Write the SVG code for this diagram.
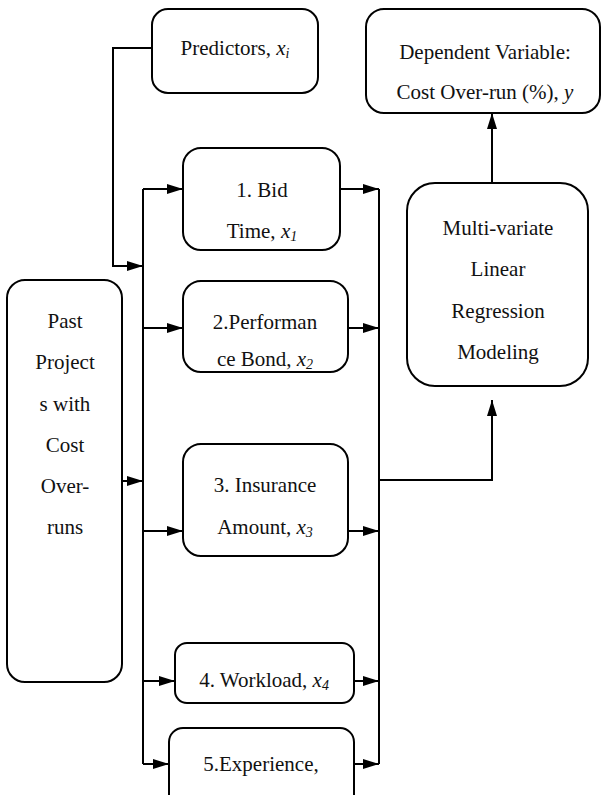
<svg xmlns="http://www.w3.org/2000/svg" width="602" height="795" viewBox="0 0 602 795">
<style>
.box{fill:#fff;stroke:#000;stroke-width:2}
text{font-family:'Liberation Serif','Times New Roman',serif;font-size:21px;fill:#111;text-anchor:middle}
.i{font-style:italic}
.s{font-size:14px;font-style:italic}
.c{fill:none;stroke:#000;stroke-width:2}
</style>
<defs>
<marker id="ah" viewBox="0 0 16 10" refX="16" refY="5" markerWidth="16" markerHeight="10" markerUnits="userSpaceOnUse" orient="auto">
<path d="M0,0 L16,5 L0,10 Z" fill="#000"/>
</marker>
</defs>
<g id="connectors">
<path class="c" d="M152,48 H113 V266 H143" marker-end="url(#ah)"/>
<path class="c" d="M143,189 V764"/>
<path class="c" d="M122,481 H143" marker-end="url(#ah)"/>
<path class="c" d="M143,189 H183" marker-end="url(#ah)"/>
<path class="c" d="M143,328 H183" marker-end="url(#ah)"/>
<path class="c" d="M143,531 H183" marker-end="url(#ah)"/>
<path class="c" d="M143,681 H175" marker-end="url(#ah)"/>
<path class="c" d="M143,764 H169" marker-end="url(#ah)"/>
<path class="c" d="M340,189 H379" marker-end="url(#ah)"/>
<path class="c" d="M348,328 H379" marker-end="url(#ah)"/>
<path class="c" d="M348,531 H379" marker-end="url(#ah)"/>
<path class="c" d="M354,681 H379" marker-end="url(#ah)"/>
<path class="c" d="M354,764 H379" marker-end="url(#ah)"/>
<path class="c" d="M379,189 V764"/>
<path class="c" d="M379,480 H492 V400" marker-end="url(#ah)"/>
<path class="c" d="M492,183 V113" marker-end="url(#ah)"/>
</g>
<g id="predictors">
<rect class="box" x="152" y="9" width="166" height="84" rx="16"/>
<text x="235" y="55">Predictors, <tspan class="i">x</tspan><tspan class="s" dy="3">i</tspan></text>
</g>
<g id="dependent">
<rect class="box" x="366" y="9" width="234" height="104" rx="18"/>
<text x="485" y="59">Dependent Variable:</text>
<text x="485" y="99">Cost Over-run (%), <tspan class="i">y</tspan></text>
</g>
<g id="bid-time">
<rect class="box" x="183" y="148" width="157" height="102" rx="18"/>
<text x="262" y="197">1. Bid</text>
<text x="262" y="238">Time, <tspan class="i">x</tspan><tspan class="s" dy="3">1</tspan></text>
</g>
<g id="performance-bond">
<rect class="box" x="183" y="281" width="165" height="91" rx="18"/>
<text x="265" y="329">2.Performan</text>
<text x="265" y="366">ce Bond, <tspan class="i">x</tspan><tspan class="s" dy="3">2</tspan></text>
</g>
<g id="past-projects">
<rect class="box" x="7" y="280" width="115" height="402" rx="18"/>
<text x="65" y="328">Past</text>
<text x="65" y="369">Project</text>
<text x="65" y="411">s with</text>
<text x="65" y="452">Cost</text>
<text x="65" y="493">Over-</text>
<text x="65" y="534">runs</text>
</g>
<g id="insurance">
<rect class="box" x="183" y="444" width="165" height="112" rx="18"/>
<text x="265" y="492">3. Insurance</text>
<text x="265" y="534">Amount, <tspan class="i">x</tspan><tspan class="s" dy="3">3</tspan></text>
</g>
<g id="workload">
<rect class="box" x="175" y="643" width="179" height="60" rx="12"/>
<text x="264" y="687">4. Workload, <tspan class="i">x</tspan><tspan class="s" dy="3">4</tspan></text>
</g>
<g id="experience">
<rect class="box" x="169" y="728" width="185" height="80" rx="14"/>
<text x="261" y="771">5.Experience,</text>
</g>
<g id="regression">
<rect class="box" x="407" y="183" width="181" height="203" rx="28"/>
<text x="498" y="235">Multi-variate</text>
<text x="498" y="276">Linear</text>
<text x="498" y="318">Regression</text>
<text x="498" y="359">Modeling</text>
</g>
</svg>
